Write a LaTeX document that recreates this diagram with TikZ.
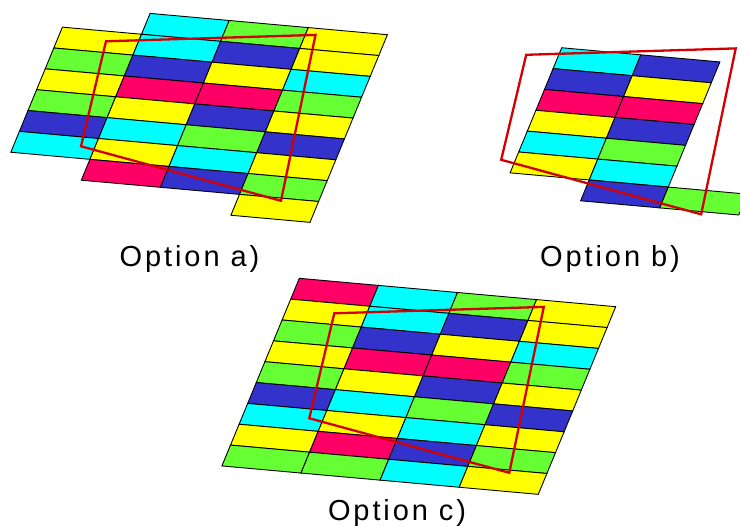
\documentclass[tikz,border=0pt]{standalone}
\usepackage{fontspec}
\setmainfont{Liberation Sans}
\newfontfamily\optfont[LetterSpace=10]{Liberation Sans}
\usetikzlibrary{calc}
\definecolor{ye}{RGB}{255,255,0}
\definecolor{cy}{RGB}{0,255,255}
\definecolor{gr}{RGB}{102,255,51}
\definecolor{bl}{RGB}{51,51,204}
\definecolor{pk}{RGB}{255,0,102}
\definecolor{quadred}{RGB}{210,0,0}
\def\cell[#1](#2)(#3:#4){\draw[fill=#1] ($(#2)+#3*(79.1,7.1)+#4*(-8.6,20.85)$) -- ++(79.1,7.1) -- ++(-8.6,20.85) -- ++(-79.1,-7.1) -- cycle;}
\def\redquad(#1){\draw[line width=2.3pt, color=quadred, line join=miter] ($(#1)+(35,35)$) -- ($(#1)+(244.5,28.6)$) -- ($(#1)+(210,194.5)$) -- ($(#1)+(10,140)$) -- cycle;}

\begin{document}
\begin{tikzpicture}[x=1pt, y=-1pt, line width=0.9pt,
    optlabel/.style={anchor=base, inner sep=0pt, font=\optfont\fontsize{29}{33}\selectfont}]
			%%%%% START %%%%%
			\useasboundingbox (0,0) rectangle (740,526);
			
			\coordinate (oa) at (71,6.3);
			\coordinate (ob) at (491.2,19.8);
			\coordinate (oc) at (299.3,278.3);
			
			% option a
			\cell[ye](oa)(0:1);
			\cell[gr](oa)(0:2);
			\cell[ye](oa)(0:3);
			\cell[gr](oa)(0:4);
			\cell[bl](oa)(0:5);
			\cell[cy](oa)(0:6);
			
			\cell[cy](oa)(1:0);
			\cell[cy](oa)(1:1);
			\cell[bl](oa)(1:2);
			\cell[pk](oa)(1:3);
			\cell[ye](oa)(1:4);
			\cell[cy](oa)(1:5);
			\cell[ye](oa)(1:6);
			\cell[pk](oa)(1:7);
			
			\cell[gr](oa)(2:0);
			\cell[bl](oa)(2:1);
			\cell[ye](oa)(2:2);
			\cell[pk](oa)(2:3);
			\cell[bl](oa)(2:4);
			\cell[gr](oa)(2:5);
			\cell[cy](oa)(2:6);
			\cell[bl](oa)(2:7);
			
			\cell[ye](oa)(3:0);
			\cell[ye](oa)(3:1);
			\cell[cy](oa)(3:2);
			\cell[gr](oa)(3:3);
			\cell[ye](oa)(3:4);
			\cell[bl](oa)(3:5);
			\cell[ye](oa)(3:6);
			\cell[gr](oa)(3:7);
			\cell[ye](oa)(3:8);
			
			\redquad(oa);
			
			% option b
			\cell[cy](ob)(1:1);
			\cell[bl](ob)(1:2);
			\cell[pk](ob)(1:3);
			\cell[ye](ob)(1:4);
			\cell[cy](ob)(1:5);
			\cell[ye](ob)(1:6);
			
			\cell[bl](ob)(2:1);
			\cell[ye](ob)(2:2);
			\cell[pk](ob)(2:3);
			\cell[bl](ob)(2:4);
			\cell[gr](ob)(2:5);
			\cell[cy](ob)(2:6);
			\cell[bl](ob)(2:7);
			
			\cell[gr](ob)(3:7);
			
			\redquad(ob);
			
			% option c
			\cell[pk](oc)(0:0);
			\cell[ye](oc)(0:1);
			\cell[gr](oc)(0:2);
			\cell[ye](oc)(0:3);
			\cell[gr](oc)(0:4);
			\cell[bl](oc)(0:5);
			\cell[cy](oc)(0:6);
			\cell[ye](oc)(0:7);
			\cell[gr](oc)(0:8);
			
			\cell[cy](oc)(1:0);
			\cell[cy](oc)(1:1);
			\cell[bl](oc)(1:2);
			\cell[pk](oc)(1:3);
			\cell[ye](oc)(1:4);
			\cell[cy](oc)(1:5);
			\cell[ye](oc)(1:6);
			\cell[pk](oc)(1:7);
			\cell[gr](oc)(1:8);
			
			\cell[gr](oc)(2:0);
			\cell[bl](oc)(2:1);
			\cell[ye](oc)(2:2);
			\cell[pk](oc)(2:3);
			\cell[bl](oc)(2:4);
			\cell[gr](oc)(2:5);
			\cell[cy](oc)(2:6);
			\cell[bl](oc)(2:7);
			\cell[cy](oc)(2:8);
			
			\cell[ye](oc)(3:0);
			\cell[ye](oc)(3:1);
			\cell[cy](oc)(3:2);
			\cell[gr](oc)(3:3);
			\cell[ye](oc)(3:4);
			\cell[bl](oc)(3:5);
			\cell[ye](oc)(3:6);
			\cell[gr](oc)(3:7);
			\cell[ye](oc)(3:8);
			
			\redquad(oc);
			
			% labels
			\node[optlabel] (laba) at (189.5,267) {Option a)};
			\node[optlabel] (labb) at (610,267) {Option b)};
			\node[optlabel] (labc) at (397,521) {Option c)};
			
			%%%%% END %%%%%
\end{tikzpicture}
\end{document}
